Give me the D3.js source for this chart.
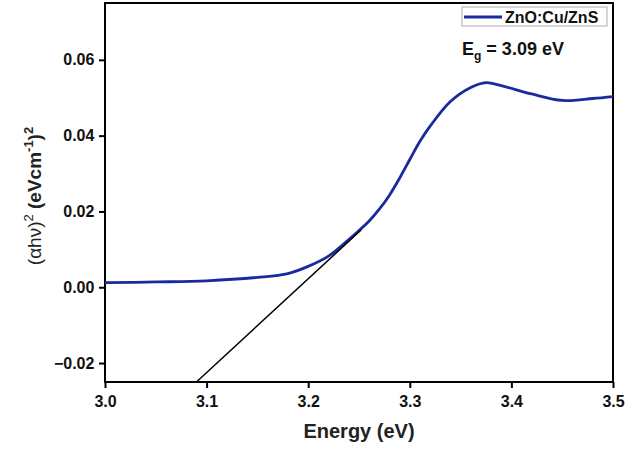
<!DOCTYPE html>
<html>
<head>
<meta charset="utf-8">
<script src="https://cdn.jsdelivr.net/npm/d3@7"></script>
<style>
  body { margin: 0; background: #fff; }
  svg text { font-family: "Liberation Sans", Arial, sans-serif; }
</style>
</head>
<body>
<div id="chart"></div>
<script>
// Tauc plot data
var energy = [3.00, 3.05, 3.10, 3.15, 3.18, 3.20, 3.22, 3.24, 3.26, 3.27, 3.28, 3.29, 3.30, 3.31, 3.32, 3.34, 3.36, 3.375, 3.39, 3.42, 3.45, 3.48, 3.50];
var ahv2 = [0.0012, 0.0014, 0.0017, 0.0026, 0.0036, 0.0055, 0.0082, 0.0126, 0.0175, 0.0206, 0.0243, 0.0288, 0.0337, 0.0385, 0.0425, 0.0490, 0.0527, 0.0540, 0.0532, 0.0510, 0.0493, 0.0498, 0.0503];
var fitX = [3.09, 3.252];
var fitY = [-0.025, 0.0151];
var xTicks = [3.0, 3.1, 3.2, 3.3, 3.4, 3.5];
var yTicks = [-0.02, 0.00, 0.02, 0.04, 0.06];
var seriesName = "ZnO:Cu/ZnS";

var W = 635, H = 449,
    margin = {top: 3, right: 22, bottom: 67, left: 105};

var svg = d3.select("#chart").append("svg")
    .attr("width", W).attr("height", H);

var x = d3.scaleLinear().domain([3.0, 3.5]).range([margin.left, W - margin.right]);
var y = d3.scaleLinear().domain([-0.025, 0.075]).range([H - margin.bottom, margin.top]);

// axes
var xAxis = svg.append("g")
    .attr("transform", "translate(0," + y.range()[0] + ")")
    .call(d3.axisBottom(x).tickValues(xTicks).tickFormat(d3.format(".1f")).tickSize(6).tickSizeOuter(0));
var yAxis = svg.append("g")
    .attr("transform", "translate(" + x.range()[0] + ",0)")
    .call(d3.axisLeft(y).tickValues(yTicks).tickFormat(function(d) {
        return d3.format(".2f")(d).replace("-", "\u2212");
    }).tickSize(6).tickSizeOuter(0));

[xAxis, yAxis].forEach(function(g) {
    g.select(".domain").remove();
    g.selectAll(".tick line").attr("stroke", "#000").attr("stroke-width", 2);
    g.selectAll(".tick text").attr("font-size", 16).attr("font-weight", "bold").attr("fill", "#111");
});
xAxis.selectAll(".tick text").attr("dy", "1.0em");
yAxis.selectAll(".tick text").attr("dx", "-0.1em");

// frame
svg.append("rect")
    .attr("x", x.range()[0]).attr("y", y.range()[1])
    .attr("width", x.range()[1] - x.range()[0])
    .attr("height", y.range()[0] - y.range()[1])
    .attr("fill", "none").attr("stroke", "#000").attr("stroke-width", 2);

// curve
var pts = energy.map(function(e, i) { return [e, ahv2[i]]; });
var line = d3.line()
    .x(function(d) { return x(d[0]); })
    .y(function(d) { return y(d[1]); })
    .curve(d3.curveCatmullRom.alpha(0.5));

svg.append("path")
    .datum(pts)
    .attr("d", line)
    .attr("fill", "none")
    .attr("stroke", "#1a2a9e")
    .attr("stroke-width", 2.8);

// linear fit
svg.append("line")
    .attr("x1", x(fitX[0])).attr("y1", y(fitY[0]))
    .attr("x2", x(fitX[1])).attr("y2", y(fitY[1]))
    .attr("stroke", "#000").attr("stroke-width", 1.5);

// legend
var lg = svg.append("g");
lg.append("rect")
    .attr("x", 462).attr("y", 7).attr("width", 145).attr("height", 19)
    .attr("fill", "#fff").attr("stroke", "#999").attr("stroke-width", 0.8);
lg.append("line")
    .attr("x1", 464).attr("x2", 502).attr("y1", 17).attr("y2", 17)
    .attr("stroke", "#1a2a9e").attr("stroke-width", 2.8);
lg.append("text")
    .attr("x", 505).attr("y", 23)
    .attr("font-size", 16).attr("font-weight", "bold").attr("fill", "#111")
    .text(seriesName);

var eg = svg.append("text")
    .attr("x", 462).attr("y", 55)
    .attr("font-size", 18).attr("font-weight", "bold").attr("fill", "#111");
eg.append("tspan").text("E");
eg.append("tspan").attr("font-size", 12).attr("dy", 5).text("g");
eg.append("tspan").attr("dy", -5).text(" = 3.09 eV");

// axis titles
svg.append("text")
    .attr("x", (x.range()[0] + x.range()[1]) / 2).attr("y", 438)
    .attr("text-anchor", "middle")
    .attr("font-size", 20).attr("font-weight", "bold").attr("fill", "#222")
    .text("Energy (eV)");

var yl = svg.append("text")
    .attr("transform", "translate(41,196) rotate(-90)")
    .attr("text-anchor", "middle")
    .attr("font-size", 19).attr("fill", "#222");
yl.append("tspan").text("(\u03b1h\u03bd)");
yl.append("tspan").attr("font-size", 13).attr("dy", -8).text("2");
yl.append("tspan").attr("dy", 8).attr("font-weight", "bold").text(" (eVcm");
yl.append("tspan").attr("font-size", 13).attr("dy", -8).attr("font-weight", "bold").text("-1");
yl.append("tspan").attr("dy", 8).attr("font-weight", "bold").text(")");
yl.append("tspan").attr("font-size", 13).attr("dy", -8).attr("font-weight", "bold").text("2");
</script>
</body>
</html>
